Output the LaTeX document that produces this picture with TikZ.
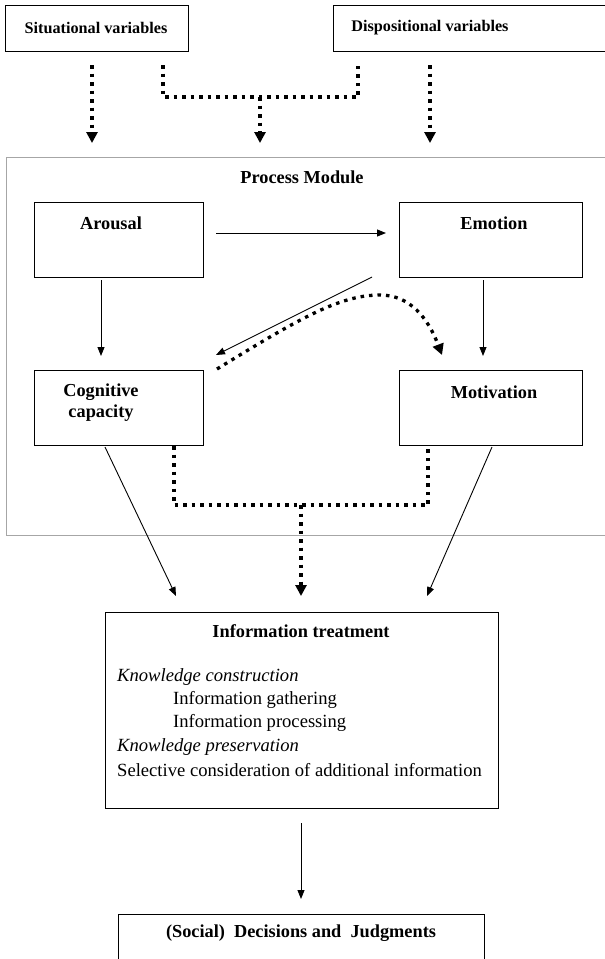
\documentclass[tikz,border=0pt]{standalone}
\usepackage{fontspec}
\setmainfont{Liberation Serif}
\usetikzlibrary{arrows.meta}
\begin{document}
\begin{tikzpicture}[x=1pt,y=-1pt,
  box/.style={draw=black,line width=0.9pt,inner sep=0pt,anchor=north west},
  modulebox/.style={draw=black!35,line width=1.2pt,inner sep=0pt,anchor=north west},
  title/.style={font=\fontsize{18.3}{21}\selectfont\bfseries,inner sep=0pt},
  inputtitle/.style={title,font=\fontsize{16.2}{19}\selectfont\bfseries},
  body/.style={font=\fontsize{18.6}{22}\selectfont,inner sep=0pt,anchor=west},
  slanted/.style={font=\fontsize{18.6}{22}\selectfont\itshape},
  solidarrow/.style={line width=0.9pt,-{Triangle[length=9pt,width=7pt]}},
  dotline/.style={line width=3.3pt,dash pattern=on 3.5pt off 5pt},
  dotarrow/.style={dotline,-{Triangle[length=11pt,width=11pt]}}]
\useasboundingbox (0,0) rectangle (605,959);

% input boxes
\node[box,minimum width=183,minimum height=46] (sv) at (5,5) {};
\node[inputtitle] (svt) at (96,28) {Situational variables};
\node[box,minimum width=275,minimum height=46] (dv) at (333,5) {};
\node[inputtitle] (dvt) at (430,28) {Dispositional variables};

% process module frame and its boxes
\node[modulebox,minimum width=610,minimum height=378] (pm) at (6,157) {};
\node[title] (pmt) at (302,177) {Process Module};
\node[box,minimum width=169,minimum height=75] (ar) at (34,202) {};
\node[title] (art) at (111,223) {Arousal};
\node[box,minimum width=183,minimum height=75] (em) at (399,202) {};
\node[title] (emt) at (494,223) {Emotion};
\node[box,minimum width=169,minimum height=75] (cc) at (34,370) {};
\node[title,align=center] (cct) at (101,403) {Cognitive\\capacity};
\node[box,minimum width=183,minimum height=75] (mo) at (399,370) {};
\node[title] (mot) at (494,392) {Motivation};

% information treatment
\node[box,minimum width=393,minimum height=196] (it) at (105,612) {};
\node[title] (itt) at (301,631) {Information treatment};
\node[body,slanted] (k1) at (117,677) {Knowledge construction};
\node[body] (k2) at (173,700) {Information gathering};
\node[body] (k3) at (173,723) {Information processing};
\node[body,slanted] (k4) at (117,747) {Knowledge preservation};
\node[body] (k5) at (117,770) {Selective consideration of additional information};

% outcome
\node[box,minimum width=366,minimum height=60] (dj) at (118,914) {};
\node[title] (djt) at (301,933) {(Social)\ \ Decisions and\ \ Judgments};

% connector end points
\coordinate (a1) at (92,65);   \coordinate (a2) at (92,143);
\coordinate (b1) at (430,65);  \coordinate (b2) at (430,143);
\coordinate (c1) at (163,65);  \coordinate (c2) at (163,97);
\coordinate (c3) at (358,65);  \coordinate (c4) at (358,97);
\coordinate (c5) at (260,97);  \coordinate (c6) at (260,143);
\coordinate (d1) at (174,446); \coordinate (d2) at (174,505);
\coordinate (d3) at (428,446); \coordinate (d4) at (428,505);
\coordinate (d5) at (301,505); \coordinate (d6) at (301,596);
\coordinate (e1) at (216,233); \coordinate (e2) at (386,233);
\coordinate (f1) at (101,280); \coordinate (f2) at (101,356);
\coordinate (g1) at (483,280); \coordinate (g2) at (483,356);
\coordinate (h1) at (372,277); \coordinate (h2) at (216,355);
\coordinate (i1) at (217,369); \coordinate (i2) at (380,295); \coordinate (i3) at (442,355);
\coordinate (j1) at (105,447); \coordinate (j2) at (176,596);
\coordinate (l1) at (492,447); \coordinate (l2) at (427,596);
\coordinate (m1) at (301,823); \coordinate (m2) at (301,899);

% dotted influences of the inputs
\draw[dotarrow] (a1) -- (a2);
\draw[dotarrow] (b1) -- (b2);
\draw[dotline] (c1) -- (c2) -- (c4) -- (c3);
\draw[dotarrow] (c5) -- (c6);

% links inside the module
\draw[solidarrow] (e1) -- (e2);
\draw[solidarrow] (f1) -- (f2);
\draw[solidarrow] (g1) -- (g2);
\draw[solidarrow] (h1) -- (h2);
\draw[dotarrow] (i1) .. controls (300,318) and (340,295) .. (i2)
                     .. controls (410,295) and (428,318) .. (i3);

% into information treatment
\draw[dotline] (d1) -- (d2) -- (d4) -- (d3);
\draw[dotarrow] (d5) -- (d6);
\draw[solidarrow] (j1) -- (j2);
\draw[solidarrow] (l1) -- (l2);
\draw[solidarrow] (m1) -- (m2);
\end{tikzpicture}
\end{document}
